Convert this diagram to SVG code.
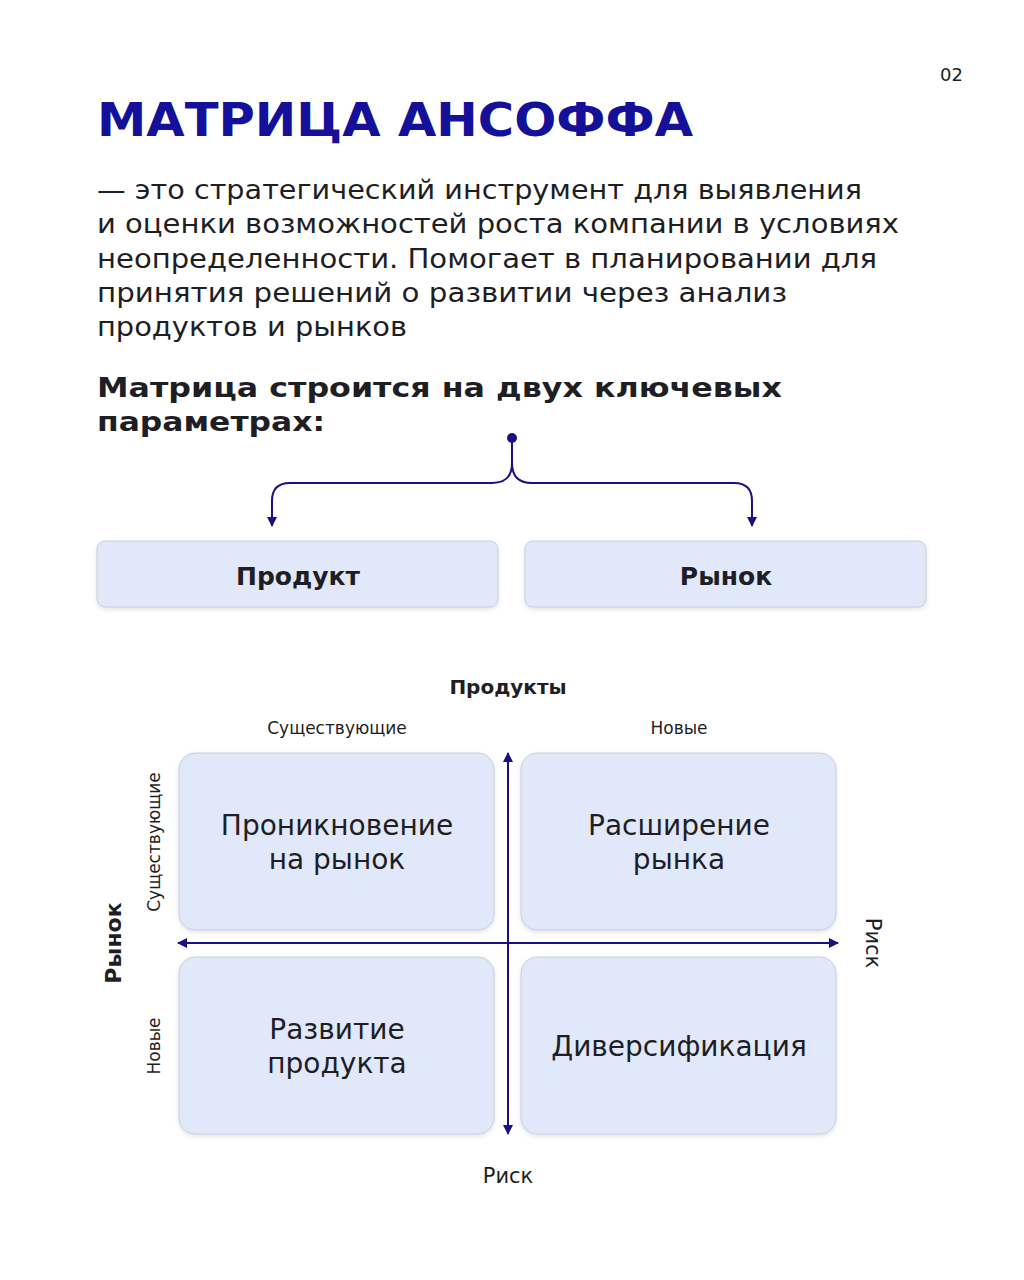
<svg xmlns="http://www.w3.org/2000/svg" width="1024" height="1280" viewBox="0 0 1024 1280">
<style>
.t{font-family:"DejaVu Sans","Noto Sans",sans-serif;fill:#1e1e24}
.box{fill:#e0e8fa;stroke:#c9cfdc;stroke-width:1}
.ln{fill:none;stroke:#1a0f85;stroke-width:2}
.q{font-size:28px;text-anchor:middle}
</style>
<defs>
<marker id="ah" viewBox="0 0 10 10" refX="9" refY="5" markerWidth="10" markerHeight="10" markerUnits="userSpaceOnUse" orient="auto-start-reverse"><path d="M0,0 L10,5 L0,10 Z" fill="#1a0f85"/></marker>
<filter id="sh" x="-5%" y="-5%" width="110%" height="115%"><feDropShadow dx="0" dy="2" stdDeviation="2" flood-color="#8090b0" flood-opacity="0.25"/></filter>
</defs>
<rect width="1024" height="1280" fill="#fff"/>
<text x="963" y="81" class="t" font-size="18" text-anchor="end">02</text>
<text x="97" y="136" font-family="DejaVu Sans,sans-serif" font-weight="bold" font-size="46" fill="#15109a" textLength="596" lengthAdjust="spacingAndGlyphs">МАТРИЦА АНСОФФА</text>
<g class="t" font-size="26">
<text x="97" y="199" textLength="765" lengthAdjust="spacingAndGlyphs">— это стратегический инструмент для выявления</text>
<text x="97" y="233" textLength="802" lengthAdjust="spacingAndGlyphs">и оценки возможностей роста компании в условиях</text>
<text x="97" y="268" textLength="780" lengthAdjust="spacingAndGlyphs">неопределенности. Помогает в планировании для</text>
<text x="97" y="302" textLength="690" lengthAdjust="spacingAndGlyphs">принятия решений о развитии через анализ</text>
<text x="97" y="336" textLength="310" lengthAdjust="spacingAndGlyphs">продуктов и рынков</text>
</g>
<g class="t" font-size="26" font-weight="bold">
<text x="97" y="397" textLength="685" lengthAdjust="spacingAndGlyphs">Матрица строится на двух ключевых</text>
<text x="97" y="431" textLength="228" lengthAdjust="spacingAndGlyphs">параметрах:</text>
</g>
<g id="connectors">
<circle cx="512" cy="438" r="5" fill="#1a0f85"/>
<path class="ln" d="M512,438 V463 Q512,483 492,483 H290 Q272,483 272,501 V526" marker-end="url(#ah)"/>
<path class="ln" d="M512,463 Q512,483 532,483 H734 Q752,483 752,501 V526" marker-end="url(#ah)"/>
<path class="ln" d="M508,1134 V753" marker-start="url(#ah)" marker-end="url(#ah)"/>
<path class="ln" d="M178,943 H838" marker-start="url(#ah)" marker-end="url(#ah)"/>
</g>
<g id="n-product"><rect class="box" filter="url(#sh)" x="97" y="541" width="401" height="66" rx="8"/><text class="t" x="298" y="585" font-size="25" font-weight="bold" text-anchor="middle">Продукт</text></g>
<g id="n-market"><rect class="box" filter="url(#sh)" x="525" y="541" width="401" height="66" rx="8"/><text class="t" x="726" y="585" font-size="25" font-weight="bold" text-anchor="middle">Рынок</text></g>
<g id="labels" class="t">
<text x="508" y="694" font-size="20" font-weight="bold" text-anchor="middle">Продукты</text>
<text x="337" y="734" font-size="17" text-anchor="middle">Существующие</text>
<text x="679" y="734" font-size="17" text-anchor="middle">Новые</text>
<text transform="translate(121,943) rotate(-90)" font-size="22" font-weight="bold" text-anchor="middle">Рынок</text>
<text transform="translate(160,842) rotate(-90)" font-size="17" text-anchor="middle">Существующие</text>
<text transform="translate(160,1046) rotate(-90)" font-size="17" text-anchor="middle">Новые</text>
<text transform="translate(866,943) rotate(90)" font-size="21" text-anchor="middle">Риск</text>
<text x="508" y="1183" font-size="21" text-anchor="middle">Риск</text>
</g>
<g id="q1"><rect class="box" filter="url(#sh)" x="179" y="753" width="315" height="177" rx="16"/><text class="t q" x="337" y="835">Проникновение</text><text class="t q" x="337" y="869">на рынок</text></g>
<g id="q2"><rect class="box" filter="url(#sh)" x="521" y="753" width="315" height="177" rx="16"/><text class="t q" x="679" y="835">Расширение</text><text class="t q" x="679" y="869">рынка</text></g>
<g id="q3"><rect class="box" filter="url(#sh)" x="179" y="957" width="315" height="177" rx="16"/><text class="t q" x="337" y="1039">Развитие</text><text class="t q" x="337" y="1073">продукта</text></g>
<g id="q4"><rect class="box" filter="url(#sh)" x="521" y="957" width="315" height="177" rx="16"/><text class="t q" x="679" y="1056">Диверсификация</text></g>
</svg>
